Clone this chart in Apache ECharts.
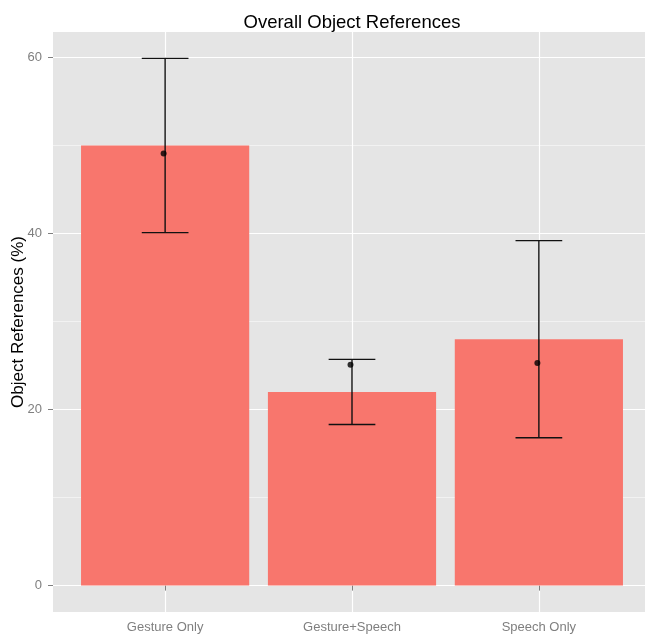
<!DOCTYPE html>
<html>
<head>
<meta charset="utf-8">
<script src="https://cdn.jsdelivr.net/npm/echarts@6/dist/echarts.min.js"></script>
<style>
  html, body { margin: 0; padding: 0; background: #fff; }
  #chart { width: 645px; height: 634px; }
</style>
</head>
<body>
<div id="chart"></div>
<script>
// Conditions and their summary values (percent of object references)
const categories = ['Gesture Only', 'Gesture+Speech', 'Speech Only'];
const barMeans = [50.0, 22.0, 28.0];
const pointValues = [49.1, 25.1, 25.3];
const pointX = [0.992, 1.992, 2.992];
const errUpper = [59.9, 25.7, 39.2];
const errLower = [40.1, 18.3, 16.8];
const yTicks = [0, 20, 40, 60];
const yMinorTicks = [10, 30, 50];
const xTicks = [1, 2, 3];

const FONT = '"Liberation Sans", Arial, Helvetica, sans-serif';
const BAR_COLOR = '#F8766D';
const AXIS_GREY = '#7F7F7F';
const BAR_WIDTH = 0.9;
const CAP_WIDTH = 0.25;

const barData = categories.map((c, i) => [i + 1, barMeans[i]]);
const errData = categories.map((c, i) => [i + 1, errLower[i], errUpper[i]]);
const pointData = categories.map((c, i) => [pointX[i], pointValues[i]]);

const chart = echarts.init(document.getElementById('chart'));

chart.setOption({
  animation: false,
  backgroundColor: '#ffffff',
  title: {
    text: 'Overall Object References',
    left: 347,
    top: 8,
    textAlign: 'center',
    textStyle: { fontFamily: FONT, fontSize: 18.5, fontWeight: 'normal', color: '#000' }
  },
  grid: {
    left: 53, right: -6, top: 32, bottom: 22,
    outerBoundsMode: 'none',
    containLabel: false,
    show: true, backgroundColor: '#E5E5E5', borderWidth: 0
  },
  xAxis: {
    type: 'value',
    min: 0.4, max: 3.6,
    axisLine: { show: false },
    axisTick: { show: true, customValues: xTicks, length: 5, lineStyle: { color: AXIS_GREY } },
    axisLabel: {
      customValues: xTicks, margin: 9,
      fontFamily: FONT, fontSize: 13, color: AXIS_GREY,
      formatter: v => categories[Math.round(v) - 1]
    },
    splitLine: { show: true, lineStyle: { color: '#ffffff', width: 1.2 } }
  },
  yAxis: [
    {
      type: 'value',
      min: -3, max: 62.9,
      name: 'Object References (%)',
      nameLocation: 'middle',
      nameGap: 26,
      nameMoveOverlap: false,
      nameRotate: 90,
      nameTextStyle: { fontFamily: FONT, fontSize: 17, color: '#000' },
      axisLine: { show: false },
      axisTick: { show: true, customValues: yTicks, length: 5, lineStyle: { color: AXIS_GREY } },
      axisLabel: { customValues: yTicks, margin: 11, fontFamily: FONT, fontSize: 13, color: AXIS_GREY },
      splitLine: { show: true, lineStyle: { color: '#ffffff', width: 1.2 } }
    },
    {
      type: 'value',
      min: -3, max: 62.9,
      position: 'left',
      axisLine: { show: false },
      axisTick: { show: false, customValues: yMinorTicks },
      axisLabel: { show: false, customValues: yMinorTicks },
      splitLine: { show: true, lineStyle: { color: '#F2F2F2', width: 1 } }
    }
  ],
  series: [
    {
      name: 'mean',
      type: 'custom',
      data: barData,
      z: 2,
      renderItem: (params, api) => {
        const x = api.value(0), y = api.value(1);
        const p0 = api.coord([x - BAR_WIDTH / 2, y]);
        const p1 = api.coord([x + BAR_WIDTH / 2, 0]);
        return {
          type: 'rect',
          shape: { x: p0[0], y: p0[1], width: p1[0] - p0[0], height: p1[1] - p0[1] },
          style: { fill: BAR_COLOR }
        };
      }
    },
    {
      name: 'error',
      type: 'custom',
      data: errData,
      z: 3,
      renderItem: (params, api) => {
        const x = api.value(0), lo = api.value(1), hi = api.value(2);
        const pLo = api.coord([x, lo]);
        const pHi = api.coord([x, hi]);
        const left = api.coord([x - CAP_WIDTH / 2, lo])[0];
        const right = api.coord([x + CAP_WIDTH / 2, lo])[0];
        const style = { stroke: '#111', lineWidth: 1.4 };
        return {
          type: 'group',
          children: [
            { type: 'line', shape: { x1: pLo[0], y1: pLo[1], x2: pHi[0], y2: pHi[1] }, style },
            { type: 'line', shape: { x1: left, y1: pHi[1], x2: right, y2: pHi[1] }, style },
            { type: 'line', shape: { x1: left, y1: pLo[1], x2: right, y2: pLo[1] }, style }
          ]
        };
      }
    },
    {
      name: 'value',
      type: 'scatter',
      data: pointData,
      z: 4,
      symbol: 'circle',
      symbolSize: 6,
      itemStyle: { color: '#000' }
    }
  ]
});
</script>
</body>
</html>
